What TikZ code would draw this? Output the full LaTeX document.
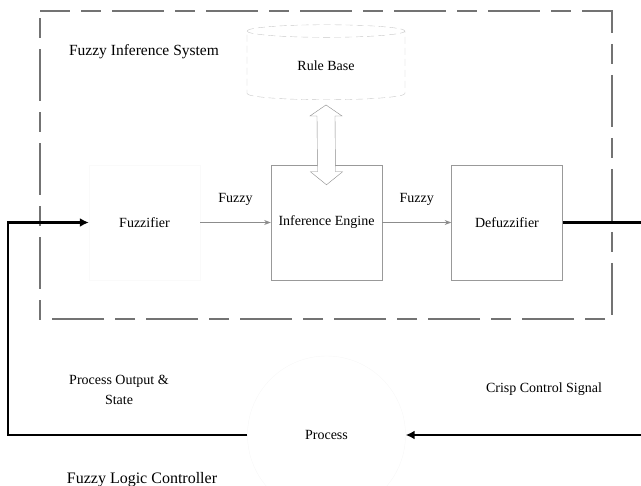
\documentclass[tikz,border=0pt]{standalone}
\usepackage{fontspec}
\setmainfont{Liberation Serif}
\usetikzlibrary{arrows.meta,shapes.geometric,calc}

\begin{document}
\begin{tikzpicture}[x=1pt, y=-1pt, >=Stealth,
    font=\fontsize{14}{20}\selectfont,
    block/.style={draw=black!40, minimum width=111pt, minimum height=115pt, inner sep=0pt},
    title/.style={font=\fontsize{15.5}{18}\selectfont},
    fuzzyline/.style={->, black!45, thick},
    crisp/.style={line width=2.6pt, -{Latex[length=9pt,width=9pt]}}]

    \useasboundingbox (0,0) rectangle (641,486);

    % Moldura tracejada do sistema de inferencia
    \draw[black!55, line width=2.4pt, dash pattern=on 52pt off 11pt on 20pt off 11pt, dash phase=22pt]
        (40,11) -- (612,11) -- (612,319) -- (40,319) -- cycle;
    \node[title] (fis) at (144,52) {Fuzzy Inference System};

    % Blocos
    \node[block, draw=black!2] (fuz) at (144.5,222.5) {Fuzzifier};
    \node[block] (ie) at (326.5,222.5) {Inference Engine};
    \node[block] (def) at (507,222.5) {Defuzzifier};

    % Base de regras (cilindro)
    \node[cylinder, shape border rotate=90, aspect=0.22, draw=black!22, dash pattern=on 7pt off 4pt,
          minimum width=158pt, minimum height=75pt, inner sep=0pt] (rb) at (326,65.5) {\raisebox{-5pt}{Rule Base}};

    % Processo
    \node[circle, draw=black!3, minimum size=158pt, inner sep=0pt] (proc) at (326.5,435) {Process};

    % Seta dupla vazada entre base de regras e motor de inferencia
    \coordinate (ua) at ($(rb.south)+(0,5)$);
    \coordinate (da) at ($(ie.north)+(0,20)$);
    \draw[black!45, fill=white]
        (ua) -- ($(ua)+(16,11)$) -- ($(ua)+(9,11)$) -- ($(da)+(9,-13)$) -- ($(da)+(16,-13)$)
        -- (da) -- ($(da)+(-16,-13)$) -- ($(da)+(-9,-13)$) -- ($(ua)+(-9,11)$) -- ($(ua)+(-16,11)$) -- cycle;

    % Ligacoes fuzzy
    \draw[fuzzyline] (fuz) -- node[above=13pt, black] (f1) {Fuzzy} (ie);
    \draw[fuzzyline] (ie) -- node[above=13pt, black] (f2) {Fuzzy} (def);

    % Malha de realimentacao
    \coordinate (rc) at (645,222.5);
    \coordinate (rb2) at (645,435);
    \coordinate (lb) at (8,435);
    \coordinate (lc) at (8,222.5);
    \draw[crisp] (def.east) -- (rc) -- (rb2) -- (proc.east);
    \draw[crisp] (proc.west) -- (lb) -- (lc) -- (fuz.west);

    % Rotulos
    \node[align=center] (pos) at (119,390) {Process Output \&\\State};
    \node (ccs) at (544,389) {Crisp Control Signal};
    \node[title, font=\fontsize{16}{18}\selectfont] (flc) at (142,480) {Fuzzy Logic Controller};

\end{tikzpicture}
\end{document}
